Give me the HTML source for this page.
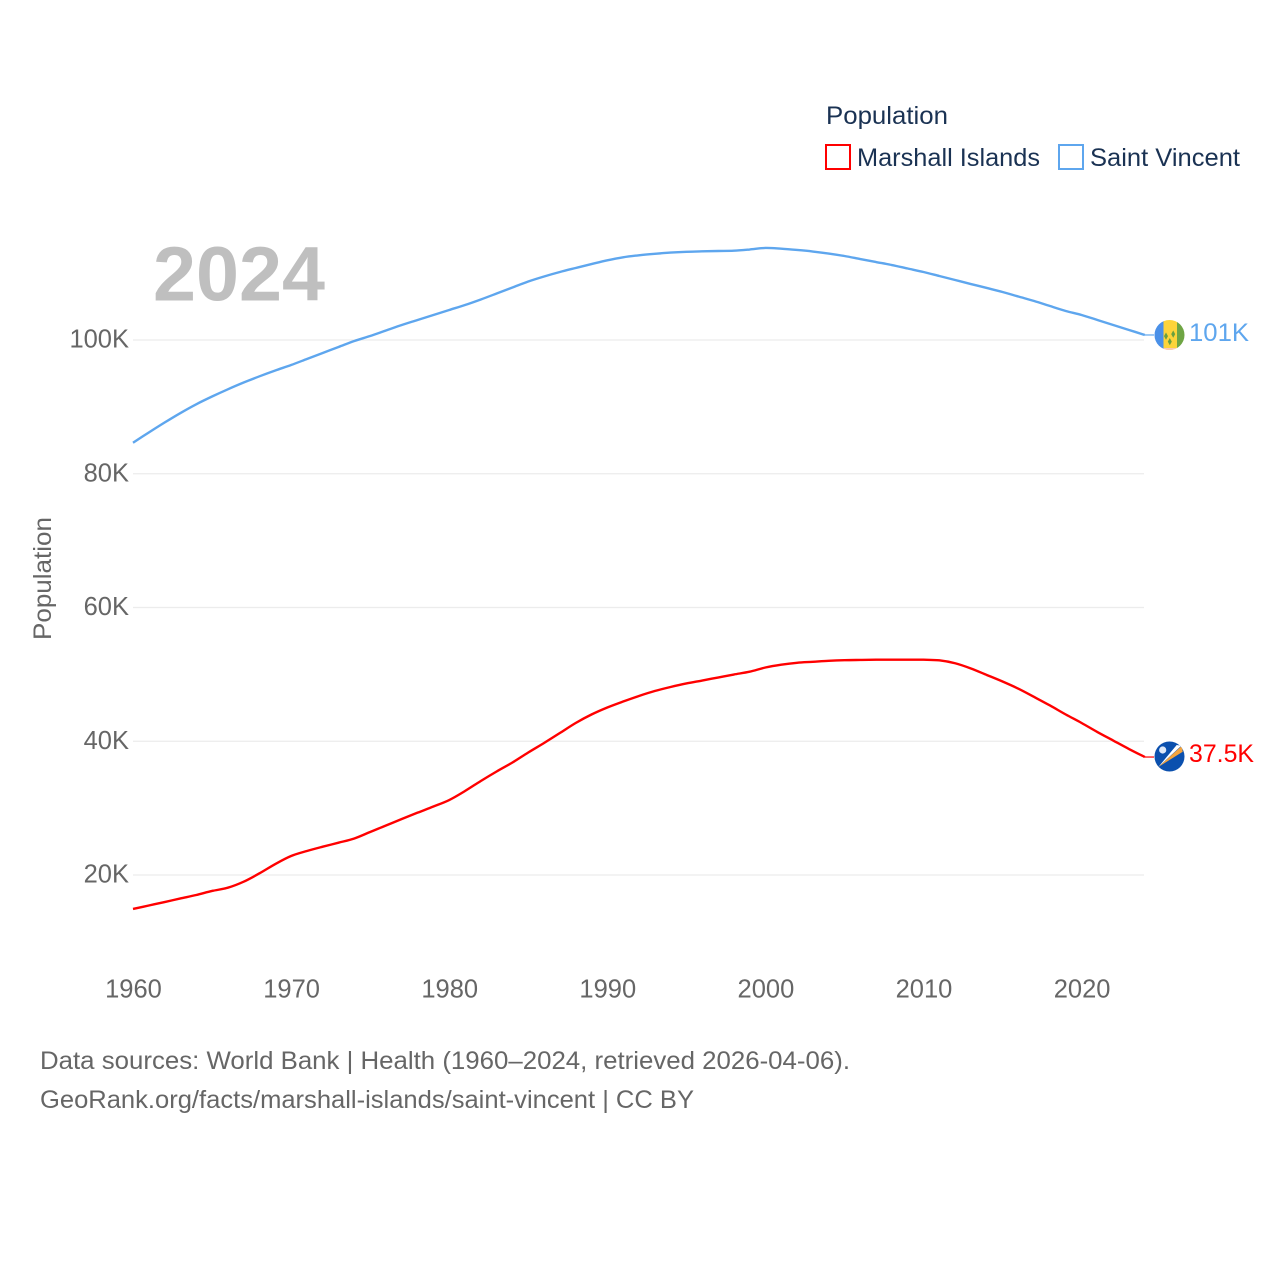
<!DOCTYPE html>
<html lang="en">
<head>
<meta charset="utf-8">
<title>Population: Marshall Islands and Saint Vincent</title>
<style>
html,body{margin:0;padding:0;background:#fff;}
svg{display:block;font-family:"Liberation Sans",sans-serif;}
</style>
</head>
<body>
<svg id="chart" xmlns="http://www.w3.org/2000/svg" width="1280" height="1280" viewBox="0 0 1280 1280">
  <rect x="0" y="0" width="1280" height="1280" fill="#ffffff"/>
  <g id="grid"></g>
  <g id="y-axis"></g>
  <g id="x-axis"></g>
  <text x="153" y="300.5" font-size="77" font-weight="700" fill="#bfbfbf" textLength="172" lengthAdjust="spacingAndGlyphs">2024</text>
  <text transform="translate(51 640) rotate(-90)" font-size="25" fill="#666666" textLength="123" lengthAdjust="spacingAndGlyphs">Population</text>
  <g id="series"></g>

  <g>
    <text x="826" y="124" font-size="25" fill="#1a3253" textLength="122" lengthAdjust="spacingAndGlyphs">Population</text>
    <rect x="826" y="145" width="24" height="24" fill="#ffffff" stroke="#ff0000" stroke-width="2"/>
    <text x="857" y="166" font-size="25" fill="#1a3253" textLength="183" lengthAdjust="spacingAndGlyphs">Marshall Islands</text>
    <rect x="1059" y="145" width="24" height="24" fill="#ffffff" stroke="#5ea6ee" stroke-width="2"/>
    <text x="1090" y="166" font-size="25" fill="#1a3253" textLength="150" lengthAdjust="spacingAndGlyphs">Saint Vincent</text>
  </g>

  <defs>
    <clipPath id="clip-vc"><circle cx="1169.5" cy="335" r="15"/></clipPath>
    <clipPath id="clip-mh"><circle cx="1169.5" cy="756.5" r="15"/></clipPath>
  </defs>
  <g clip-path="url(#clip-vc)">
    <rect x="1154" y="320" width="9.5" height="30" fill="#4a90e8"/>
    <rect x="1163.5" y="320" width="13.5" height="30" fill="#fdd43a"/>
    <rect x="1177" y="320" width="9" height="30" fill="#6fa544"/>
    <path d="M1166 332.5l2 3.6-2 3.6-2-3.6z M1173.2 330.5l2 3.6-2 3.6-2-3.6z M1169.8 338l2 3.6-2 3.6-2-3.6z" fill="#6aa03f"/>
    <rect x="1163.5" y="348" width="13.5" height="2" fill="#f8c9b8"/>
  </g>
  <g clip-path="url(#clip-mh)">
    <rect x="1154" y="741" width="31" height="31" fill="#0b50ae"/>
    <path d="M1158.3 767L1181.7 746L1182.7 751.7Z" fill="#f5a43c"/>
    <path d="M1158.3 767L1176.7 745L1181.3 745.7Z" fill="#ffffff"/>
    <circle cx="1162.7" cy="750" r="3.6" fill="#dfe9f8"/>
  </g>
  <text x="1189" y="341" font-size="25" fill="#5ea6ee" textLength="60" lengthAdjust="spacingAndGlyphs">101K</text>
  <text x="1189" y="762" font-size="25" fill="#ff0000" textLength="65" lengthAdjust="spacingAndGlyphs">37.5K</text>

  <text x="40" y="1069" font-size="25" fill="#666666" textLength="810" lengthAdjust="spacingAndGlyphs">Data sources: World Bank | Health (1960–2024, retrieved 2026-04-06).</text>
  <text x="40" y="1108" font-size="25" fill="#666666" textLength="654" lengthAdjust="spacingAndGlyphs">GeoRank.org/facts/marshall-islands/saint-vincent | CC BY</text>
</svg>
<script>
const firstYear = 1960;
const xTicks = [1960, 1970, 1980, 1990, 2000, 2010, 2020];
const yTicks = [20, 40, 60, 80, 100];
const marshallIslands = [14.92,15.44,15.96,16.49,17.01,17.61,18.10,19.00,20.25,21.64,22.84,23.59,24.23,24.83,25.46,26.43,27.40,28.37,29.32,30.24,31.21,32.56,34.06,35.48,36.82,38.32,39.74,41.23,42.73,44.00,45.05,45.94,46.77,47.51,48.11,48.64,49.08,49.53,49.98,50.40,51.03,51.45,51.73,51.88,52.03,52.12,52.16,52.19,52.19,52.19,52.19,52.10,51.66,50.88,49.91,48.93,47.86,46.62,45.35,44.00,42.73,41.38,40.11,38.84,37.64];
const saintVincent = [84.64,86.17,87.66,89.08,90.39,91.55,92.63,93.64,94.57,95.44,96.26,97.16,98.06,98.95,99.85,100.60,101.42,102.24,102.99,103.74,104.49,105.23,106.06,106.95,107.85,108.75,109.50,110.17,110.77,111.36,111.92,112.37,112.67,112.89,113.07,113.19,113.26,113.31,113.35,113.53,113.76,113.65,113.46,113.23,112.93,112.56,112.11,111.66,111.21,110.69,110.17,109.57,108.97,108.37,107.78,107.18,106.50,105.83,105.08,104.34,103.74,102.99,102.24,101.50,100.75];

const NS = 'http://www.w3.org/2000/svg';
const xScale = function (year) { return 133 + (year - 1960) * 15.81; };
const yScale = function (valueK) { return 340 + (100 - valueK) * 6.6875; };
const gridGroup = document.getElementById('grid');
const yAxisGroup = document.getElementById('y-axis');
const xAxisGroup = document.getElementById('x-axis');
const seriesGroup = document.getElementById('series');

yTicks.forEach(function (tick) {
  const y = yScale(tick);
  const line = document.createElementNS(NS, 'line');
  
  
  line.setAttribute('x1', 133);
  line.setAttribute('x2', 1144);
  line.setAttribute('y1', y);
  line.setAttribute('y2', y);
  line.setAttribute('stroke', '#ececec');
  line.setAttribute('stroke-width', 1.3);
  gridGroup.appendChild(line);

  const label = document.createElementNS(NS, 'text');
  
  
  label.setAttribute('x', 129);
  label.setAttribute('y', y + 7.5);
  label.setAttribute('text-anchor', 'end');
  label.setAttribute('font-size', 25.5);
  label.setAttribute('fill', '#666666');
  label.textContent = tick + 'K';
  yAxisGroup.appendChild(label);
});

xTicks.forEach(function (tick) {
  const label = document.createElementNS(NS, 'text');
  
  
  label.setAttribute('x', xScale(tick) + 0.5);
  label.setAttribute('y', 997.5);
  label.setAttribute('text-anchor', 'middle');
  label.setAttribute('font-size', 25.5);
  label.setAttribute('fill', '#666666');
  label.textContent = String(tick);
  xAxisGroup.appendChild(label);
});

function seriesPath(values) {
  const px = values.map(function (v, i) { return xScale(firstYear + i); });
  const py = values.map(function (v) { return yScale(v); });
  let d = 'M' + px[0].toFixed(2) + ' ' + py[0].toFixed(2);
  for (let i = 0; i < values.length - 1; i++) {
    const a = Math.max(i - 1, 0);
    const b = Math.min(i + 2, values.length - 1);
    const c1x = px[i] + (px[i + 1] - px[a]) / 6;
    const c1y = py[i] + (py[i + 1] - py[a]) / 6;
    const c2x = px[i + 1] - (px[b] - px[i]) / 6;
    const c2y = py[i + 1] - (py[b] - py[i]) / 6;
    d += ' C' + c1x.toFixed(2) + ' ' + c1y.toFixed(2) + ' ' + c2x.toFixed(2) + ' ' + c2y.toFixed(2) + ' ' + px[i + 1].toFixed(2) + ' ' + py[i + 1].toFixed(2);
  }
  return d;
}

const lineMarshall = document.createElementNS(NS, 'path');


lineMarshall.setAttribute('d', seriesPath(marshallIslands));
lineMarshall.setAttribute('fill', 'none');
lineMarshall.setAttribute('stroke', '#ff0000');
lineMarshall.setAttribute('stroke-width', 2.4);
lineMarshall.setAttribute('stroke-linejoin', 'round');
seriesGroup.appendChild(lineMarshall);

const lineVincent = document.createElementNS(NS, 'path');


lineVincent.setAttribute('d', seriesPath(saintVincent));
lineVincent.setAttribute('fill', 'none');
lineVincent.setAttribute('stroke', '#5ea6ee');
lineVincent.setAttribute('stroke-width', 2.4);
lineVincent.setAttribute('stroke-linejoin', 'round');
seriesGroup.appendChild(lineVincent);

const lastX = xScale(firstYear + marshallIslands.length - 1);

const leaderMarshall = document.createElementNS(NS, 'line');


leaderMarshall.setAttribute('x1', lastX);
leaderMarshall.setAttribute('x2', 1154);
leaderMarshall.setAttribute('y1', yScale(marshallIslands[marshallIslands.length - 1]));
leaderMarshall.setAttribute('y2', yScale(marshallIslands[marshallIslands.length - 1]));
leaderMarshall.setAttribute('stroke', '#ff0000');
leaderMarshall.setAttribute('stroke-width', 1.2);
seriesGroup.appendChild(leaderMarshall);

const leaderVincent = document.createElementNS(NS, 'line');


leaderVincent.setAttribute('x1', lastX);
leaderVincent.setAttribute('x2', 1154);
leaderVincent.setAttribute('y1', yScale(saintVincent[saintVincent.length - 1]));
leaderVincent.setAttribute('y2', yScale(saintVincent[saintVincent.length - 1]));
leaderVincent.setAttribute('stroke', '#5ea6ee');
leaderVincent.setAttribute('stroke-width', 1.2);
seriesGroup.appendChild(leaderVincent);
</script>
</body>
</html>
